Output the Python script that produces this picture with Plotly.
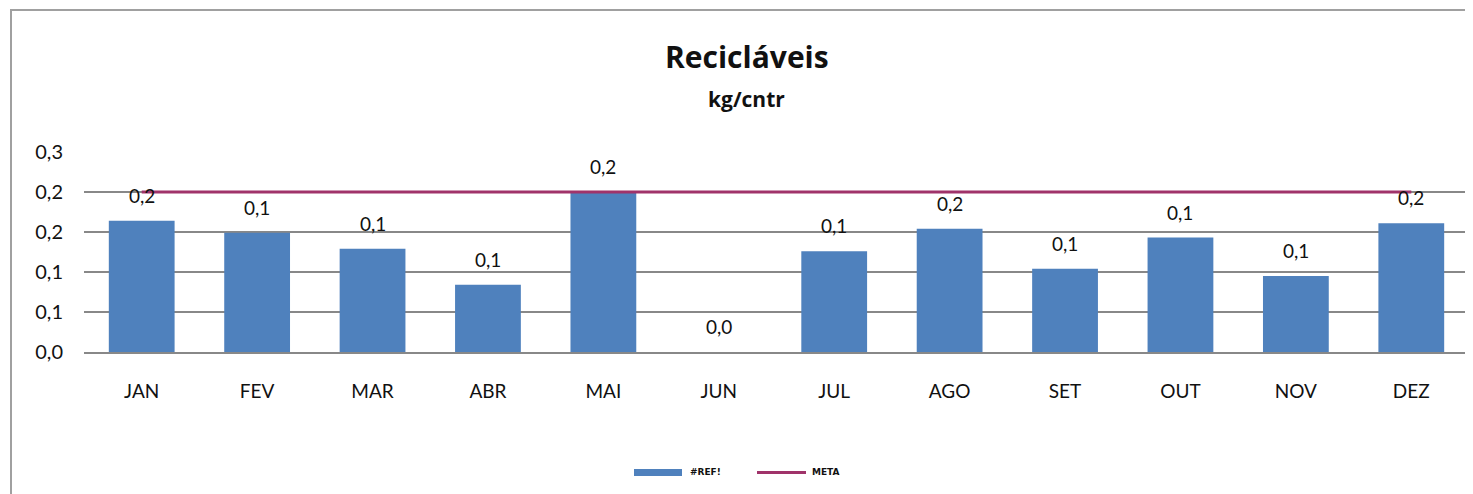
import plotly.graph_objects as go

months = ["JAN", "FEV", "MAR", "ABR", "MAI", "JUN", "JUL", "AGO", "SET", "OUT", "NOV", "DEZ"]
values = [0.164, 0.149, 0.129, 0.084, 0.200, 0.0, 0.126, 0.154, 0.104, 0.143, 0.095, 0.161]
meta = [0.2] * 12
y_tickvals = [0.0, 0.05, 0.10, 0.15, 0.20, 0.25]
y_ticktext = ["0,0", "0,1", "0,1", "0,2", "0,2", "0,3"]
series_name = "#REF!"
meta_name = "META"
title_text = "Recicláveis"
subtitle_text = "kg/cntr"

FONT = "Lato"
OFF = 8  # page body margin
W, H = 1473, 494
L = 84 - OFF
T = 152 - OFF
R = W - (1469 - OFF)
B = H - (352 - OFF)
pw, ph = W - L - R, H - T - B

def px_x(x):
    return (x - OFF - L) / pw

def px_y(y):
    return (H - B - (y - OFF)) / ph

bar_color = "#4F81BD"
line_color = "#A0336A"

fig = go.Figure()
fig.add_trace(go.Bar(x=months, y=values, name=series_name, marker=dict(color=bar_color, line=dict(width=0)),
                     showlegend=False))
fig.add_trace(go.Scatter(x=months, y=meta, name=meta_name, mode="lines",
                         line=dict(color=line_color, width=3), showlegend=False))

annotations = []
for m, v in zip(months, values):
    annotations.append(dict(x=m, y=v, xref="x", yref="y", text=f"{v:.1f}".replace(".", ","),
                            showarrow=False, yanchor="bottom", yshift=12,
                            font=dict(family=FONT, size=19, color="#111111")))

annotations.append(dict(x=px_x(747), y=px_y(57), xref="paper", yref="paper", text=f"<b>{title_text}</b>",
                        showarrow=False, xanchor="center", yanchor="middle",
                        font=dict(family="Open Sans", size=30, color="#111111")))
annotations.append(dict(x=px_x(746), y=px_y(99), xref="paper", yref="paper", text=f"<b>{subtitle_text}</b>",
                        showarrow=False, xanchor="center", yanchor="middle",
                        font=dict(family="Open Sans", size=21, color="#111111")))
# legend labels
annotations.append(dict(x=px_x(688), y=px_y(472), xref="paper", yref="paper", text=f"<b>{series_name}</b>",
                        showarrow=False, xanchor="left", yanchor="middle",
                        font=dict(family="DejaVu Sans", size=9, color="#111111")))
annotations.append(dict(x=px_x(810), y=px_y(472), xref="paper", yref="paper", text=f"<b>{meta_name}</b>",
                        showarrow=False, xanchor="left", yanchor="middle",
                        font=dict(family="DejaVu Sans", size=9, color="#111111")))

shapes = [
    # outer frame
    dict(type="rect", xref="paper", yref="paper", x0=px_x(11), x1=px_x(1500), y0=px_y(10), y1=px_y(520),
         line=dict(color="#A0A0A0", width=2), fillcolor="rgba(0,0,0,0)", layer="below"),
    # legend symbols
    dict(type="rect", xref="paper", yref="paper", x0=px_x(634), x1=px_x(682), y0=px_y(469), y1=px_y(476),
         line=dict(width=0), fillcolor=bar_color),
    dict(type="line", xref="paper", yref="paper", x0=px_x(757), x1=px_x(806), y0=px_y(472.5), y1=px_y(472.5),
         line=dict(color=line_color, width=3)),
]

fig.update_layout(
    width=W, height=H,
    margin=dict(l=L, r=R, t=T, b=B, pad=0),
    paper_bgcolor="white", plot_bgcolor="white",
    bargap=0.43,
    showlegend=False,
    annotations=annotations,
    shapes=shapes,
    font=dict(family=FONT, size=19, color="#111111"),
)
fig.update_xaxes(showgrid=False, showline=True, linecolor="#888888", linewidth=2, ticks="",
                 ticklabelstandoff=21, tickfont=dict(family=FONT, size=19, color="#111111"))
fig.update_yaxes(range=[0, 0.25], tickvals=y_tickvals, ticktext=y_ticktext, showgrid=True,
                 gridcolor="#888888", gridwidth=1.5, zeroline=False, showline=False, ticks="",
                 ticklabelstandoff=20, tickfont=dict(family=FONT, size=20, color="#111111"))

fig.write_html("out.html")
